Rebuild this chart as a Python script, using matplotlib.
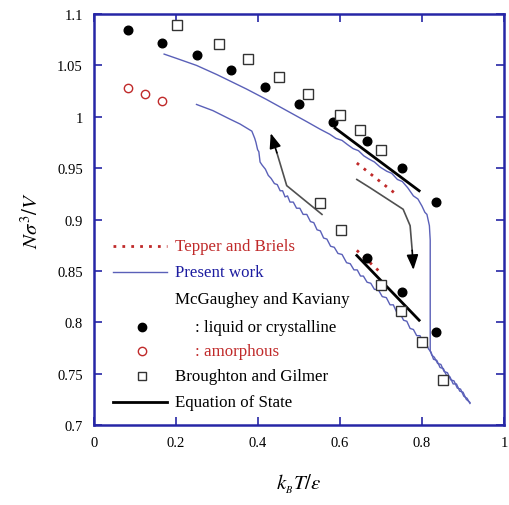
import matplotlib.pyplot as plt

plt.rcParams['font.family'] = ['Liberation Serif', 'DejaVu Serif']
plt.rcParams['mathtext.fontset'] = 'stix'

# McGaughey and Kaviany: liquid or crystalline
mk_x = [0.083, 0.167, 0.250, 0.333, 0.417, 0.500, 0.583, 0.667, 0.750, 0.833,
        0.667, 0.750, 0.833]
mk_y = [1.084, 1.072, 1.060, 1.046, 1.029, 1.012, 0.995, 0.976, 0.950, 0.917,
        0.863, 0.829, 0.791]

# McGaughey and Kaviany: amorphous
am_x = [0.083, 0.125, 0.167]
am_y = [1.028, 1.022, 1.015]

# Broughton and Gilmer
bg_x = [0.203, 0.304, 0.375, 0.452, 0.521, 0.600, 0.648, 0.700,
        0.550, 0.603, 0.700, 0.749, 0.801, 0.850]
bg_y = [1.089, 1.071, 1.056, 1.039, 1.022, 1.002, 0.987, 0.968,
        0.916, 0.890, 0.836, 0.811, 0.781, 0.744]

# Equation of state (two branches)
eos_hi_x = [0.588, 0.793]
eos_hi_y = [0.989, 0.928]
eos_lo_x = [0.641, 0.793]
eos_lo_y = [0.865, 0.802]

# Tepper and Briels
tb_hi_x = [0.641, 0.742]
tb_hi_y = [0.955, 0.923]
tb_lo_x = [0.641, 0.700]
tb_lo_y = [0.870, 0.848]

# Present work, upper branch (with the jump down near 0.82)
pw1_x = [0.171, 0.200, 0.250, 0.300, 0.372, 0.420, 0.470, 0.520, 0.551, 0.575,
         0.590, 0.605, 0.618, 0.632, 0.645, 0.658, 0.670, 0.684, 0.698, 0.714,
         0.726, 0.740, 0.752, 0.765, 0.779, 0.790, 0.800, 0.807, 0.812, 0.818,
         0.820, 0.820, 0.824, 0.830, 0.838, 0.846, 0.854, 0.862, 0.870, 0.878,
         0.886, 0.894, 0.902, 0.910, 0.917]
pw1_y = [1.061, 1.057, 1.050, 1.041, 1.027, 1.017, 1.006, 0.995, 0.988, 0.983,
         0.979, 0.977, 0.973, 0.969, 0.967, 0.962, 0.959, 0.956, 0.951, 0.947,
         0.945, 0.939, 0.937, 0.931, 0.923, 0.920, 0.913, 0.907, 0.905, 0.894,
         0.880, 0.772, 0.768, 0.766, 0.760, 0.759, 0.752, 0.751, 0.744, 0.743,
         0.736, 0.735, 0.728, 0.726, 0.721]

# Present work, lower branch
pw2_x = [0.250, 0.290, 0.330, 0.356, 0.385, 0.392, 0.395, 0.399, 0.402, 0.405,
         0.410, 0.418, 0.425, 0.432, 0.440, 0.447, 0.454, 0.460, 0.466, 0.472,
         0.478, 0.486, 0.494, 0.502, 0.510, 0.519, 0.528, 0.536, 0.544, 0.552,
         0.560, 0.568, 0.577, 0.586, 0.595, 0.605, 0.616, 0.625, 0.634, 0.642,
         0.650, 0.657, 0.666, 0.675, 0.684, 0.693, 0.703, 0.713, 0.722, 0.730,
         0.738, 0.746, 0.755, 0.763, 0.771, 0.779, 0.787, 0.795, 0.803, 0.811,
         0.816, 0.822, 0.828, 0.836, 0.844, 0.852, 0.860, 0.868, 0.876, 0.884,
         0.892, 0.900, 0.908, 0.917]
pw2_y = [1.012, 1.006, 0.998, 0.993, 0.986, 0.979, 0.975, 0.968, 0.966, 0.956,
         0.953, 0.949, 0.943, 0.940, 0.935, 0.934, 0.928, 0.928, 0.922, 0.923,
         0.917, 0.917, 0.911, 0.911, 0.905, 0.905, 0.898, 0.897, 0.890, 0.889,
         0.882, 0.881, 0.874, 0.873, 0.867, 0.866, 0.858, 0.857, 0.851, 0.851,
         0.845, 0.845, 0.839, 0.838, 0.832, 0.832, 0.825, 0.824, 0.817, 0.817,
         0.810, 0.809, 0.802, 0.801, 0.794, 0.793, 0.787, 0.787, 0.780, 0.779,
         0.774, 0.771, 0.764, 0.763, 0.756, 0.755, 0.748, 0.747, 0.740, 0.740,
         0.733, 0.732, 0.725, 0.722]

# guide arrows (path, last point is the tip)
up_x = [0.556, 0.470, 0.446, 0.431]
up_y = [0.905, 0.933, 0.965, 0.984]
dn_x = [0.641, 0.673, 0.754, 0.771, 0.776, 0.779]
dn_y = [0.939, 0.931, 0.910, 0.894, 0.870, 0.851]

blue = '#5a60b8'
red = '#c02a2a'
spine = '#2626a6'

fig = plt.figure(figsize=(5.09, 5.06), dpi=100)
ax = fig.add_axes([0.1847, 0.158, 0.8055, 0.8123])

ax.plot(pw1_x, pw1_y, color=blue, lw=1.0)
ax.plot(pw2_x, pw2_y, color=blue, lw=1.0)

for xs, ys in [(up_x, up_y), (dn_x, dn_y)]:
    ax.plot(xs[:-1], ys[:-1], color='#505050', lw=1.2)
    ax.annotate('', xy=(xs[-1], ys[-1]), xytext=(xs[-2], ys[-2]),
                arrowprops=dict(arrowstyle='-|>,head_length=0.9,head_width=0.35',
                                color='black', lw=1.2, shrinkA=0, shrinkB=0))

ax.plot(eos_hi_x, eos_hi_y, color='black', lw=2.0)
ax.plot(eos_lo_x, eos_lo_y, color='black', lw=2.0)
ax.plot(tb_hi_x, tb_hi_y, color=red, lw=2.0, ls=(0, (1, 2.2)))
ax.plot(tb_lo_x, tb_lo_y, color=red, lw=2.0, ls=(0, (1, 2.2)))

ax.plot(mk_x, mk_y, 'o', color='black', ms=6.2, zorder=5)
ax.plot(am_x, am_y, 'o', mfc='white', mec=red, mew=1.0, ms=6, zorder=5)
ax.plot(bg_x, bg_y, 's', mfc='white', mec='#333333', mew=1.0, ms=6.5, zorder=5)

# legend drawn by hand inside the axes
tr = ax.transAxes
fs = 12.2
ax.plot([0.046, 0.178], [0.4355, 0.4355], color=red, lw=2.0, ls=(0, (1, 2.2)), transform=tr)
ax.text(0.197, 0.4355, 'Tepper and Briels', color=red, fontsize=fs, va='center', transform=tr)
ax.plot([0.046, 0.178], [0.372, 0.372], color=blue, lw=1.0, transform=tr)
ax.text(0.197, 0.372, 'Present work', color='#1c1ca0', fontsize=fs, va='center', transform=tr)
ax.text(0.197, 0.3066, 'McGaughey and Kaviany', color='black', fontsize=fs, va='center', transform=tr)
ax.plot([0.116], [0.2384], 'o', color='black', ms=6, transform=tr)
ax.text(0.246, 0.2384, ': liquid or crystalline', color='black', fontsize=fs, va='center', transform=tr)
ax.plot([0.116], [0.180], 'o', mfc='white', mec=red, mew=1.0, ms=6, transform=tr)
ax.text(0.246, 0.180, ': amorphous', color=red, fontsize=fs, va='center', transform=tr)
ax.plot([0.116], [0.120], 's', mfc='white', mec='#333333', mew=1.0, ms=6, transform=tr)
ax.text(0.197, 0.120, 'Broughton and Gilmer', color='black', fontsize=fs, va='center', transform=tr)
ax.plot([0.046, 0.178], [0.056, 0.056], color='black', lw=2.0, transform=tr)
ax.text(0.197, 0.056, 'Equation of State', color='black', fontsize=fs, va='center', transform=tr)

ax.set_xlim(0, 1)
ax.set_ylim(0.7, 1.1)
ax.set_xticks([0, 0.2, 0.4, 0.6, 0.8, 1])
ax.set_xticklabels(['0', '0.2', '0.4', '0.6', '0.8', '1'])
ax.set_yticks([0.7, 0.75, 0.8, 0.85, 0.9, 0.95, 1.0, 1.05, 1.1])
ax.set_yticklabels(['0.7', '0.75', '0.8', '0.85', '0.9', '0.95', '1', '1.05', '1.1'])
ax.tick_params(direction='in', length=6, width=1.2, color=spine, top=True, right=True,
               labelsize=10.5, pad=8)
for s in ax.spines.values():
    s.set_color(spine)
    s.set_linewidth(1.8)

ax.set_xlabel(r'$k_{_B}T/\varepsilon$', fontsize=15, labelpad=16)
ax.set_ylabel(r'$N\sigma^3/V$', fontsize=15, labelpad=10)

fig.savefig('out.png', dpi=100)
